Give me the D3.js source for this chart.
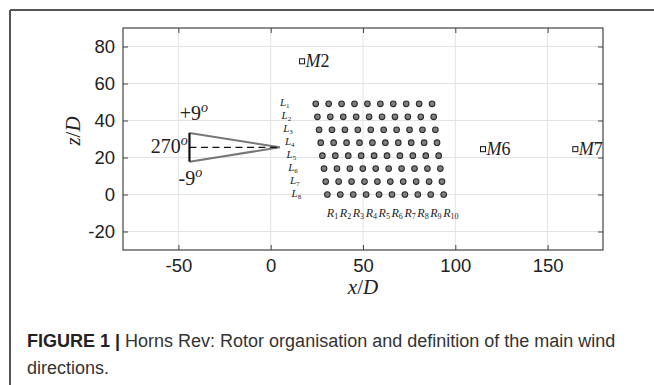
<!DOCTYPE html>
<html><head><meta charset="utf-8">
<script src="https://cdn.jsdelivr.net/npm/d3@7"></script>
<style>
html,body{margin:0;padding:0;background:#fff;}
svg{display:block;}
</style></head>
<body>
<svg id="chart" width="654" height="385"></svg>
<script>
// ---- data ----
const xTicks = [-50, 0, 50, 100, 150];
const yTicks = [-20, 0, 20, 40, 60, 80];
const xDomain = [-80, 180];
const yDomain = [-30, 90];
const rowLabels = ["1","2","3","4","5","6","7","8"];
const rowZ = [49, 42, 35, 28, 21, 14, 7, 0];
const rowStartX = [24.4, 25.3, 26.2, 27.1, 28.0, 28.9, 29.8, 30.7];
const colOffsets = [0, 7, 14, 21, 28, 35, 42, 49, 56, 63];
const colLabels = ["1","2","3","4","5","6","7","8","9","10"];
const mastNames = ["2", "6", "7"];
const mastX = [17, 115, 165];
const mastZ = [72, 24.5, 24.5];
const windApex = [5, 25.5];
const windLength = 49;
const windHalfAngle = 9;
const angleLabels = ["+9", "270", "-9"];

// ---- layout ----
const svg = d3.select("#chart");
const L = 123, R = 603, T = 28, B = 250;
const x = d3.scaleLinear(xDomain, [L, R]);
const y = d3.scaleLinear(yDomain, [B, T]);
const serif = "'Liberation Serif','DejaVu Serif',serif";
const sans = "'Liberation Sans',Arial,sans-serif";
const fmt = d => String(d);

// figure frame (cropped box)
svg.append("line").attr("x1",10).attr("x2",654).attr("y1",10).attr("y2",10)
  .attr("stroke","#555").attr("stroke-width",2);
svg.append("line").attr("x1",10).attr("x2",10).attr("y1",10).attr("y2",385)
  .attr("stroke","#555").attr("stroke-width",2);

// grid
const g = svg.append("g");
g.selectAll(".gx").data(xTicks).join("line")
  .attr("x1",d=>x(d)).attr("x2",d=>x(d)).attr("y1",T).attr("y2",B)
  .attr("stroke","#e3e3e3").attr("stroke-width",1);
g.selectAll(".gy").data(yTicks).join("line")
  .attr("y1",d=>y(d)).attr("y2",d=>y(d)).attr("x1",L).attr("x2",R)
  .attr("stroke","#e3e3e3").attr("stroke-width",1);

// axes (MATLAB style, inward ticks on all sides)
function styleAxis(sel, labels){
  sel.select(".domain").remove();
  sel.selectAll(".tick line").attr("stroke","#444").attr("stroke-width",1);
  sel.selectAll(".tick text").attr("font-family",sans).attr("font-size",18.5).attr("fill","#222");
  if(!labels) sel.selectAll(".tick text").remove();
}
svg.append("g").attr("transform",`translate(0,${B})`)
  .call(d3.axisBottom(x).tickValues(xTicks).tickSizeInner(-5).tickSizeOuter(0).tickPadding(9).tickFormat(fmt))
  .call(s=>styleAxis(s,true));
svg.append("g").attr("transform",`translate(0,${T})`)
  .call(d3.axisTop(x).tickValues(xTicks).tickSizeInner(-5).tickSizeOuter(0))
  .call(s=>styleAxis(s,false));
svg.append("g").attr("transform",`translate(${L},0)`)
  .call(d3.axisLeft(y).tickValues(yTicks).tickSizeInner(-5).tickSizeOuter(0).tickPadding(8).tickFormat(fmt))
  .call(s=>styleAxis(s,true));
svg.append("g").attr("transform",`translate(${R},0)`)
  .call(d3.axisRight(y).tickValues(yTicks).tickSizeInner(-5).tickSizeOuter(0))
  .call(s=>styleAxis(s,false));
svg.append("rect").attr("x",L).attr("y",T).attr("width",R-L).attr("height",B-T)
  .attr("fill","none").attr("stroke","#444").attr("stroke-width",1.2);

// axis titles
function mathLabel(sel, a, b){
  sel.append("tspan").attr("font-style","italic").text(a);
  sel.append("tspan").text("/");
  sel.append("tspan").attr("font-style","italic").text(b);
}
svg.append("text").attr("x",(L+R)/2).attr("y",294).attr("text-anchor","middle")
  .attr("font-family",serif).attr("font-size",21).attr("fill","#222")
  .call(s=>mathLabel(s,"x","D"));
svg.append("text").attr("transform",`translate(80,131) rotate(-90)`).attr("text-anchor","middle")
  .attr("font-family",serif).attr("font-size",21).attr("fill","#222")
  .call(s=>mathLabel(s,"z","D"));

// wind direction wedge
const dz = windLength*Math.tan(windHalfAngle*Math.PI/180);
const xLeft = windApex[0]-windLength;
svg.append("path")
  .attr("d", d3.line()([[x(xLeft),y(windApex[1]+dz)],[x(windApex[0]),y(windApex[1])],[x(xLeft),y(windApex[1]-dz)]]))
  .attr("fill","none").attr("stroke","#777").attr("stroke-width",2);
svg.append("line").attr("x1",x(xLeft)).attr("x2",x(windApex[0])).attr("y1",y(windApex[1])).attr("y2",y(windApex[1]))
  .attr("stroke","#111").attr("stroke-width",1.2).attr("stroke-dasharray","7,4.5");
svg.append("line").attr("x1",x(xLeft)).attr("x2",x(xLeft)).attr("y1",y(windApex[1]+dz)).attr("y2",y(windApex[1]-dz))
  .attr("stroke","#111").attr("stroke-width",2.2);

function degLabel(txt, px, py, anchor){
  const t = svg.append("text").attr("x",px).attr("y",py).attr("text-anchor",anchor)
    .attr("font-family",serif).attr("font-size",20).attr("fill","#222");
  t.append("tspan").text(txt);
  t.append("tspan").attr("font-style","italic").attr("font-size",14).attr("dy",-8).text("o");
}
degLabel(angleLabels[0], x(xLeft-5.3), y(windApex[1]+dz+7), "start");
degLabel(angleLabels[1], x(xLeft-0.9), y(windApex[1]-3.2), "end");
degLabel(angleLabels[2], x(xLeft-5.9), y(windApex[1]-dz-12.6), "start");

// turbines
const turbines = [];
rowZ.forEach((z,i)=>colOffsets.forEach((o,j)=>turbines.push({x:rowStartX[i]+o, z, i, j})));
svg.append("g").selectAll("circle").data(turbines).join("circle")
  .attr("cx",d=>x(d.x)).attr("cy",d=>y(d.z)).attr("r",2.8)
  .attr("fill","#808080").attr("stroke","#2a2a2a").attr("stroke-width",1.1);

// row labels L1..L8
svg.append("g").selectAll("text").data(rowLabels).join("text")
  .attr("x",(d,i)=>x(rowStartX[i]-19.4)).attr("y",(d,i)=>y(rowZ[i])+2)
  .attr("font-family",serif).attr("font-size",11).attr("fill","#222")
  .each(function(d){
    const t=d3.select(this);
    t.append("tspan").attr("font-style","italic").text("L");
    t.append("tspan").attr("font-size",7).attr("dy",2).text(d);
  });

// column labels R1..R10 under last row
const last = rowZ.length-1;
svg.append("g").selectAll("text").data(colLabels).join("text")
  .attr("x",(d,j)=>x(rowStartX[last]+colOffsets[j])-0.5).attr("y",y(rowZ[last])+22)
  .attr("font-family",serif).attr("font-size",12).attr("fill","#222")
  .each(function(d){
    const t=d3.select(this);
    t.append("tspan").attr("font-style","italic").text("R");
    t.append("tspan").attr("font-size",8).attr("dy",2.5).text(d);
  });

// met masts
const masts = mastNames.map((n,i)=>({n, x:mastX[i], z:mastZ[i]}));
const mg = svg.append("g").selectAll("g").data(masts).join("g")
  .attr("transform",d=>`translate(${x(d.x)},${y(d.z)})`);
mg.append("rect").attr("x",-2.5).attr("y",-2.5).attr("width",5).attr("height",5)
  .attr("fill","#fff").attr("stroke","#111").attr("stroke-width",1);
mg.append("text").attr("x",3.5).attr("y",6).attr("font-family",serif).attr("font-size",18).attr("fill","#222")
  .each(function(d){
    const t=d3.select(this);
    t.append("tspan").attr("font-style","italic").text("M");
    t.append("tspan").text(d.n);
  });

// caption
const cap = svg.append("text").attr("x",27).attr("y",347).attr("font-family",sans).attr("font-size",18).attr("fill","#333");
cap.append("tspan").attr("font-weight","bold").attr("fill","#222").text("FIGURE 1 | ");
cap.append("tspan").text("Horns Rev: Rotor organisation and definition of the main wind");
svg.append("text").attr("x",27).attr("y",374).attr("font-family",sans).attr("font-size",18).attr("fill","#333")
  .text("directions.");
</script>
</body></html>
